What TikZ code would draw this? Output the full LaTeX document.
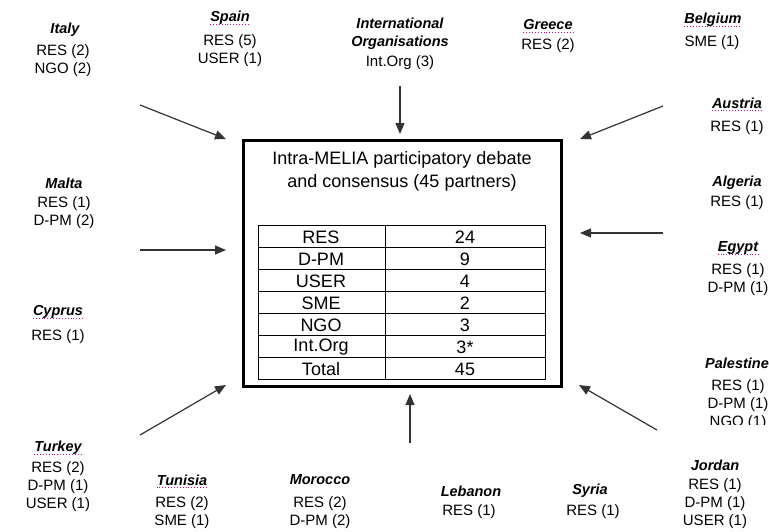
\documentclass[tikz,border=0pt]{standalone}
\usepackage{fontspec}
\setmainfont{Liberation Sans}
\usetikzlibrary{arrows.meta}

\tikzset{
  country/.style={font=\fontsize{14.5}{18}\selectfont\bfseries\itshape, inner sep=0pt, align=center},
  partner/.style={font=\fontsize{15}{18}\selectfont, inner sep=0pt, align=center},
  cell/.style={font=\fontsize{18}{21}\selectfont, inner sep=0pt},
  flow/.style={draw=black!80, line width=1.2pt, -{Triangle[length=11pt,width=9pt]}},
  spell/.style={draw=magenta!80!blue, line width=0.9pt, dotted},
  debate/.style={draw, line width=3pt, minimum width=318pt, minimum height=246pt}
}

\begin{document}
\begin{tikzpicture}[x=1pt,y=-1pt]%[line cap=round,line join=round]
\useasboundingbox (0,0) rectangle (769,531);

% central box and table
\node[debate] (melia) at (402.5,263.5) {};
\node[font=\fontsize{18}{23}\selectfont, align=center] (title) at (402,171.5) {Intra-MELIA participatory debate\\and consensus (45 partners)};
\draw[line width=1pt] (258,225) rectangle (545,379);
\draw[line width=1pt] (385,225) -- (385,379);
\foreach \r in {1,...,6}
  \draw[line width=1pt] (258,225+22*\r) -- (545,225+22*\r);
\foreach \k/\v [count=\i] in {RES/24, D-PM/9, USER/4, SME/2, NGO/3, Int.Org/3*, Total/45} {
  \node[cell] (k\i) at (321,215+22*\i) {\k};
  \node[cell] (v\i) at (465,215+22*\i) {\v};
}

% countries
\node[country] (italy) at (65,30) {Italy};
\node[partner] (italyp) at (63,61) {RES (2)\\NGO (2)};
\node[country] (spain) at (230,18) {Spain};
\node[partner] (spainp) at (230,51) {RES (5)\\USER (1)};
\node[country] (intorg) at (400,34) {International\\Organisations};
\node[partner] (intorgp) at (400,63) {Int.Org (3)};
\node[country] (greece) at (548,25) {Greece};
\node[partner] (greecep) at (548,46) {RES (2)};
\node[country] (belgium) at (713,20) {Belgium};
\node[partner] (belgiump) at (712,43) {SME (1)};
\node[country] (austria) at (737,103) {Austria};
\node[partner] (austriap) at (737,128) {RES (1)};
\node[country] (algeria) at (737,183) {Algeria};
\node[partner] (algeriap) at (737,203) {RES (1)};
\node[country] (egypt) at (738,248) {Egypt};
\node[partner] (egyptp) at (738,280) {RES (1)\\D-PM (1)};
\node[country, anchor=west] (palestine) at (705,363) {Palestine};
\begin{scope}
  \clip (600,300) rectangle (769,424);
  \node[partner] (palestinep) at (738,405) {RES (1)\\D-PM (1)\\NGO (1)};
\end{scope}
\node[country] (jordan) at (715,465) {Jordan};
\node[partner] (jordanp) at (715,504) {RES (1)\\D-PM (1)\\USER (1)};
\node[country] (syria) at (590,491) {Syria};
\node[partner] (syriap) at (593,512) {RES (1)};
\node[country] (lebanon) at (471,491) {Lebanon};
\node[partner] (lebanonp) at (469,512) {RES (1)};
\node[country] (morocco) at (320,480) {Morocco};
\node[partner] (moroccop) at (320,513) {RES (2)\\D-PM (2)};
\node[country] (tunisia) at (182,480) {Tunisia};
\node[partner] (tunisiap) at (182,513) {RES (2)\\SME (1)};
\node[country] (turkey) at (58,448) {Turkey};
\node[partner] (turkeyp) at (58,487) {RES (2)\\D-PM (1)\\USER (1)};
\node[country] (cyprus) at (58,312) {Cyprus};
\node[partner] (cyprusp) at (58,337) {RES (1)};
\node[country] (malta) at (64,183) {Malta};
\node[partner] (maltap) at (64,213) {RES (1)\\D-PM (2)};

% spell-check marks
\foreach \c in {spain,greece,belgium,austria,egypt,cyprus,turkey,tunisia}
  \draw[spell] ([yshift=-2.5pt]\c.base west) -- ([yshift=-2.5pt]\c.base east);

% arrows
\coordinate (nfrom) at (400,86);   \coordinate (nto) at (400,134);
\coordinate (nwfrom) at (140,105); \coordinate (nwto) at (226,139);
\coordinate (wfrom) at (140,250);  \coordinate (wto) at (226,250);
\coordinate (swfrom) at (140,435); \coordinate (swto) at (226,385);
\coordinate (sfrom) at (410,443);  \coordinate (sto) at (410,394);
\coordinate (nefrom) at (663,106); \coordinate (neto) at (580,139);
\coordinate (efrom) at (663,233);  \coordinate (eto) at (580,233);
\coordinate (sefrom) at (657,430); \coordinate (seto) at (579,385);
\draw[flow] (nfrom) -- (nto);
\draw[flow] (nwfrom) -- (nwto);
\draw[flow] (wfrom) -- (wto);
\draw[flow] (swfrom) -- (swto);
\draw[flow] (sfrom) -- (sto);
\draw[flow] (nefrom) -- (neto);
\draw[flow] (efrom) -- (eto);
\draw[flow] (sefrom) -- (seto);
\end{tikzpicture}
\end{document}
